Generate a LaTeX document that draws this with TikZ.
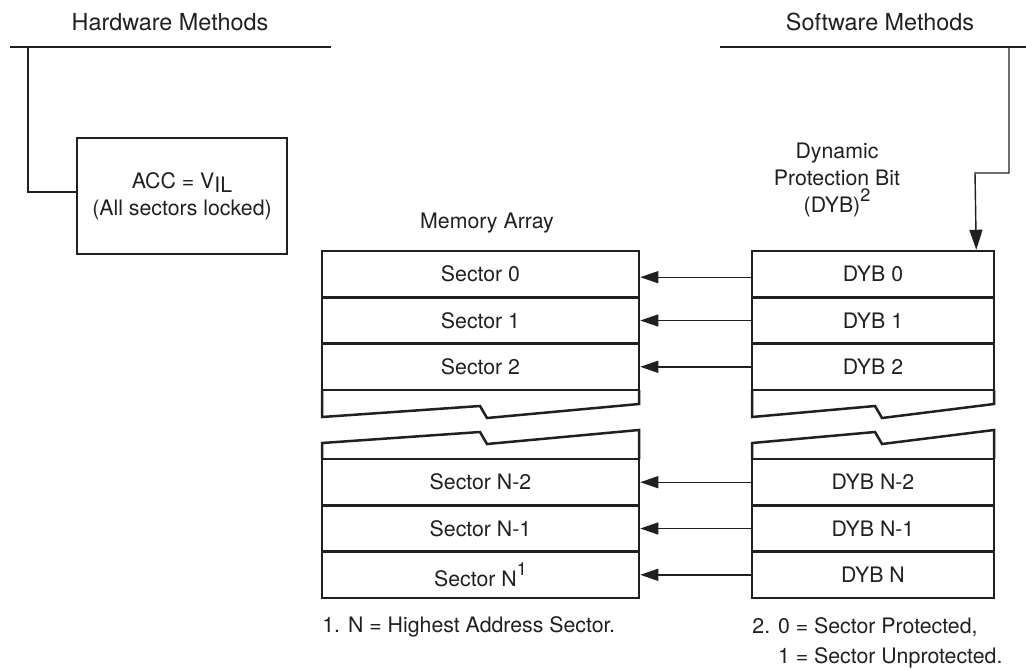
\documentclass[tikz,border=0pt]{standalone}
\usepackage{fontspec}
\setmainfont{TeX Gyre Heros}
\usetikzlibrary{arrows.meta}
\definecolor{ink}{HTML}{231F20}
\newcommand{\bodyfont}{\fontsize{10.65}{13.5}\selectfont}
\newcommand{\headfont}{\fontsize{11.7}{14}\selectfont}
\newcommand{\supr}[1]{\raisebox{5.5pt}{\fontsize{9}{9}\selectfont #1}}
\begin{document}
\begin{tikzpicture}[x=0.5pt,y=-0.5pt,
  every node/.style={text=ink},
  rowbox/.style={draw=ink, line width=1.25pt, inner sep=0pt, minimum height=23.17pt, font=\bodyfont},
  memrow/.style={rowbox, minimum width=158.5pt},
  dybrow/.style={rowbox, minimum width=121pt},
  brk/.style={draw=ink, line width=1.25pt, line join=miter},
  thinln/.style={draw=ink, line width=0.7pt},
  arr/.style={thinln, -{Triangle[length=9pt,width=6pt]}},
  lbl/.style={font=\bodyfont, inner sep=0pt},
  hdr/.style={font=\headfont, inner sep=0pt}]
\useasboundingbox (0,0) rectangle (1026,669);

% headers
\node[hdr] (hwt) at (170,22) {Hardware Methods};
\node[hdr] (swt) at (880,22) {Software Methods};
\draw[thinln] (10,47) -- (331,47);
\draw[thinln] (720,47) -- (1026,47);
\coordinate (hw) at (28,47);
\coordinate (sw) at (1009,47);

% ACC box
\node[draw=ink, line width=1.25pt, minimum width=105pt, minimum height=58pt, align=center, font=\bodyfont, inner sep=0pt] (acc) at (182,196)
  {ACC = V\raisebox{-2pt}{IL}\\(All sectors locked)};
\draw[thinln] (hw) |- ([yshift=2pt]acc.west);

% labels
\node[lbl] (mal) at (487,223) {Memory Array};
\node[lbl, align=center] (dybl) at (837,180) {Dynamic\\Protection Bit\\(DYB)\supr{2}};

% memory rows
\node[memrow] (s0) at (480.5,274.2) {Sector 0};
\node[memrow] (s1) at (480.5,320.5) {Sector 1};
\node[memrow] (s2) at (480.5,366.8) {Sector 2};
\node[memrow] (sn2) at (480.5,482.2) {Sector N-2};
\node[memrow] (sn1) at (480.5,528.5) {Sector N-1};
\node[memrow] (sn) at (480.5,574.8) {Sector N\supr{1}};

% DYB rows
\node[dybrow] (d0) at (873,274.2) {DYB 0};
\node[dybrow] (d1) at (873,320.5) {DYB 1};
\node[dybrow] (d2) at (873,366.8) {DYB 2};
\node[dybrow] (dn2) at (873,482.2) {DYB N-2};
\node[dybrow] (dn1) at (873,528.5) {DYB N-1};
\node[dybrow] (dn) at (873,574.8) {DYB N};

% break shapes, memory
\draw[brk] (322,390) -- (322,417) -- (480,406) -- (487,418) -- (639,404) -- (639,390);
\draw[brk] (322,459) -- (322,443) -- (480,432) -- (487,444) -- (639,430) -- (639,459);
% break shapes, DYB
\draw[brk] (752,390) -- (752,417) -- (875,406) -- (882,418) -- (994,404) -- (994,390);
\draw[brk] (752,459) -- (752,443) -- (875,432) -- (882,444) -- (994,430) -- (994,459);

% arrows
\draw[arr] ([yshift=-1.5pt]d0.west) -- ([yshift=-1.5pt]s0.east);
\draw[arr] (d1.west) -- (s1.east);
\draw[arr] (d2.west) -- (s2.east);
\draw[arr] (dn2.west) -- (sn2.east);
\draw[arr] (dn1.west) -- (sn1.east);
\draw[arr] (dn.west) -- (sn.east);

% software connector
\coordinate (swb) at (1009,173);
\draw[thinln, -{Triangle[length=10pt,width=6.5pt]}] (sw) -- (swb) -- (975,173) -- ([xshift=-9.5pt]d0.north east);

% footnotes
\node[lbl, anchor=west] (fn1) at (322,627) {1. N = Highest Address Sector.};
\node[lbl, anchor=north west, align=left, font=\fontsize{10.65}{15}\selectfont] (fn2) at (752,617)
  {2. 0 = Sector Protected,\\\phantom{2. }1 = Sector Unprotected.};
\end{tikzpicture}
\end{document}
